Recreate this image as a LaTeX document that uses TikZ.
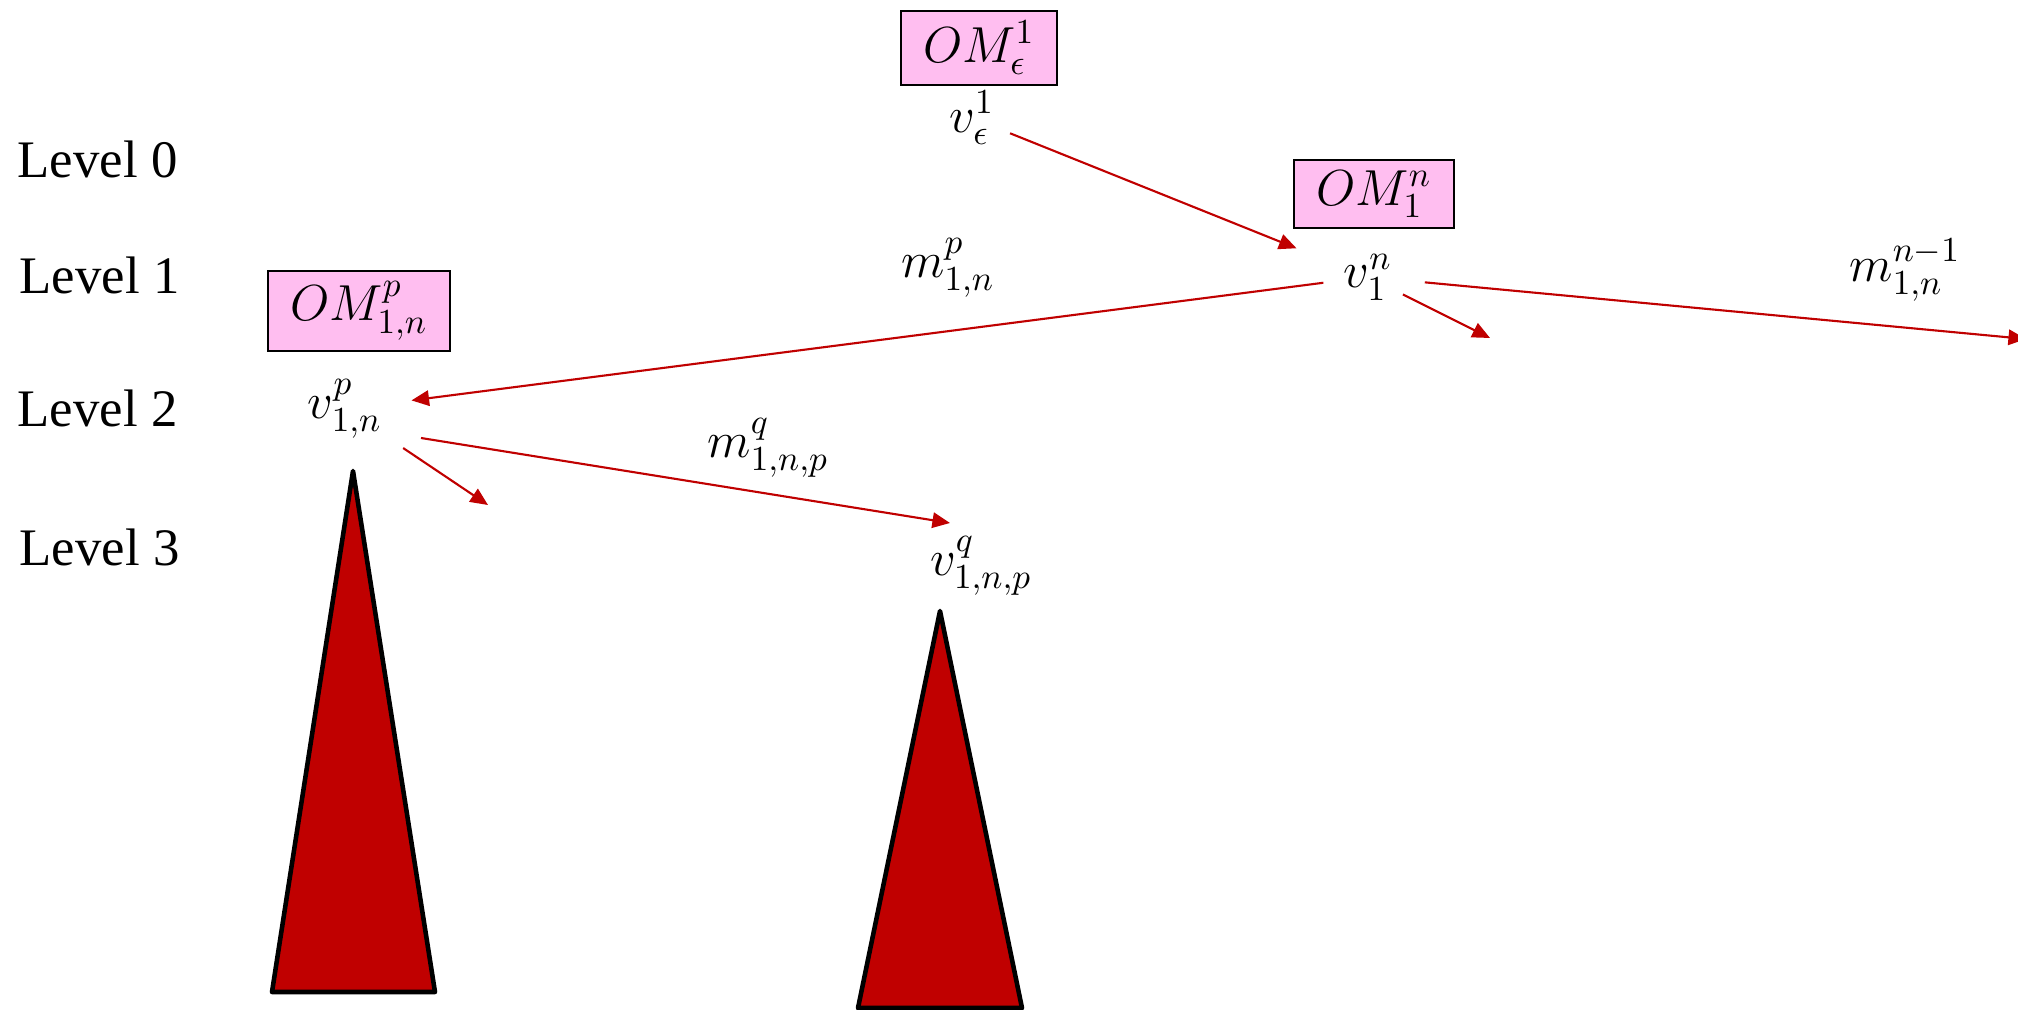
\documentclass[tikz,border=0pt]{standalone}
\usepackage{fontspec}
\usepackage{amsmath,amssymb}
\usetikzlibrary{arrows.meta,positioning,calc}
\newfontfamily\levelfont{Liberation Serif}
\definecolor{ompink}{RGB}{255,190,240}
\definecolor{treered}{RGB}{192,0,0}

\begin{document}
\begin{tikzpicture}[x=0.01cm,y=-0.01cm,
  lvl/.style={font={\levelfont\fontsize{15}{18}\selectfont},anchor=west,inner sep=0pt},
  vtx/.style={inner sep=0pt,font={\fontsize{14}{17}\selectfont}},
  om/.style={draw=black,fill=ompink,line width=0.6pt,inner xsep=0.22cm,inner ysep=0.1cm,font={\fontsize{14}{17}\selectfont}},
  ml/.style={font={\fontsize{14}{17}\selectfont},inner sep=0pt},
  msg/.style={-{Triangle[length=5pt,width=4.4pt]},treered,line width=0.6pt},
  subtree/.style={draw=black,fill=treered,line width=1.3pt,line join=round}]
\useasboundingbox (0,0) rectangle (2018,1010);
% Levels
\node[lvl] (l0) at (17,159) {Level 0};
\node[lvl] (l1) at (19,275) {Level 1};
\node[lvl] (l2) at (17,408) {Level 2};
\node[lvl] (l3) at (19,547) {Level 3};
% Vertices
\node[vtx] (ve) at (972,118) {$v_{\epsilon}^{1}$};
\node[vtx] (v1) at (1368,277) {$v_{1}^{n}$};
\node[vtx] (vp) at (345,409) {$v_{1,n}^{p}$};
\node[vtx] (vq) at (981,566) {$v_{1,n,p}^{q}$};
% Oracle boxes
\node[om] (ome) at (979,48) {$OM_{\epsilon}^{1}$};
\node[om] (om1) at (1374,194) {$OM_{1}^{n}$};
\node[om] (omp) at (359,311) {$OM_{1,n}^{p}$};
% Edge labels
\node[ml] (mp) at (948,268) {$m_{1,n}^{p}$};
\node[ml] (mn) at (1905,270) {$m_{1,n}^{n-1}$};
\node[ml] (mq) at (768,448) {$m_{1,n,p}^{q}$};
% Free ends
\coordinate (c1) at (1490,338);
\coordinate (cr) at (2026,339);
\coordinate (cp) at (488,505);
% Edges
\draw[msg,shorten <=0.41cm,shorten >=0.77cm] (ve.center) -- (v1.center);
\draw[msg,shorten <=0.45cm,shorten >=0.67cm] (v1.center) -- (vp.center);
\draw[msg,shorten <=0.39cm] (v1.center) -- (c1);
\draw[msg,shorten <=0.57cm] (v1.center) -- (cr);
\draw[msg] ([shift={(76,29)}]vp.center) -- ([shift={(-31,-43)}]vq.center);
\draw[msg,shorten <=0.7cm] (vp.center) -- (cp);
% Subtrees
\draw[subtree] (353,471) -- (435,992) -- (272,992) -- cycle;
\draw[subtree] (940,611) -- (1022,1008) -- (858,1008) -- cycle;
\end{tikzpicture}
\end{document}
